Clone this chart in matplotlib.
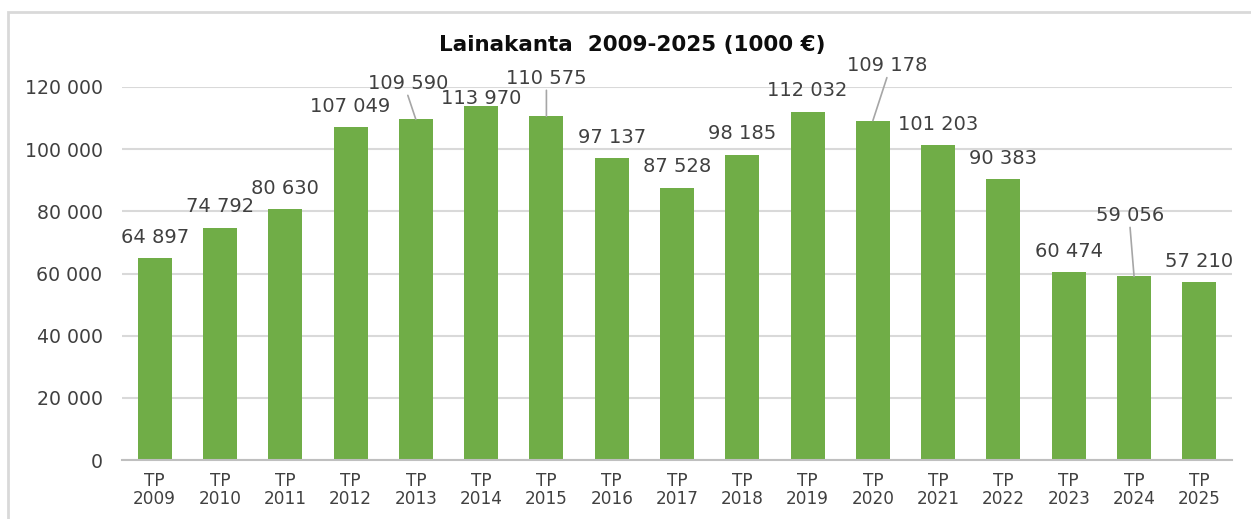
import matplotlib
matplotlib.use('Agg')
from matplotlib import pyplot as plt
from matplotlib.patches import Rectangle

years = ['2009', '2010', '2011', '2012', '2013', '2014', '2015', '2016', '2017',
         '2018', '2019', '2020', '2021', '2022', '2023', '2024', '2025']
values = [64897, 74792, 80630, 107049, 109590, 113970, 110575, 97137, 87528,
          98185, 112032, 109178, 101203, 90383, 60474, 59056, 57210]
tick_labels = ['TP\n' + y for y in years]
yticks = [0, 20000, 40000, 60000, 80000, 100000, 120000]

# label offsets in pixels (dx, dy) from bar top, leader line for moved labels
label_offsets = {4: (-8, 36), 5: (0, 7), 6: (0, 38), 11: (14, 55), 15: (-4, 61)}
leader = [4, 6, 11, 15]

GREEN = '#70ad47'
TEXT = '#404040'

plt.rcParams['font.family'] = ['DejaVu Sans']

fig = plt.figure(figsize=(12.51, 5.19), dpi=100)
ax = fig.add_axes([122 / 1251, 1 - 460 / 519, 1110 / 1251, 373 / 519])

x = range(len(years))
bars = ax.bar(x, values, width=0.52, color=GREEN, zorder=3)

ax.set_xlim(-0.5, len(years) - 0.5)
ax.set_ylim(0, 120000)
ax.set_yticks(yticks)
ax.set_yticklabels([f'{v:,}'.replace(',', ' ') for v in yticks])
ax.set_xticks(list(x))
ax.set_xticklabels(tick_labels, linespacing=1.0)
ax.tick_params(axis='y', length=0, pad=14, labelsize=13.6, labelcolor=TEXT)
ax.tick_params(axis='x', length=0, pad=9, labelsize=12.2, labelcolor=TEXT)

ax.grid(axis='y', color='#d9d9d9', linewidth=1.5, zorder=0)
for s in ['top', 'right', 'left']:
    ax.spines[s].set_visible(False)
ax.spines['bottom'].set_color('#bfbfbf')
ax.spines['bottom'].set_linewidth(1.5)
ax.spines['bottom'].set_zorder(4)

for i, v in enumerate(values):
    dx, dy = label_offsets.get(i, (0, 21))
    txt = f'{v:,}'.replace(',', ' ')
    ax.annotate(txt, xy=(i, v), xytext=(dx, dy), textcoords='offset pixels',
                ha='center', va='center', fontsize=14, color=TEXT,
                annotation_clip=False, zorder=5)
    if i in leader:
        ax.annotate('', xy=(i, v), xytext=(dx, dy - 12), textcoords='offset pixels',
                    arrowprops=dict(arrowstyle='-', color='#a6a6a6', lw=1.2,
                                    shrinkA=0, shrinkB=0),
                    annotation_clip=False, zorder=4)

fig.text(632 / 1251, 1 - 45 / 519, 'Lainakanta  2009-2025 (1000 €)',
         ha='center', va='center', fontsize=15.5, fontweight='bold', color='#0d0d0d')

# chart area frame
fig.patches.append(Rectangle((8 / 1251, -0.1), 1.2, 1 - 12 / 519 + 0.1,
                             transform=fig.transFigure, fill=False,
                             edgecolor='#d9d9d9', linewidth=2))

fig.savefig('out.png', dpi=100)
